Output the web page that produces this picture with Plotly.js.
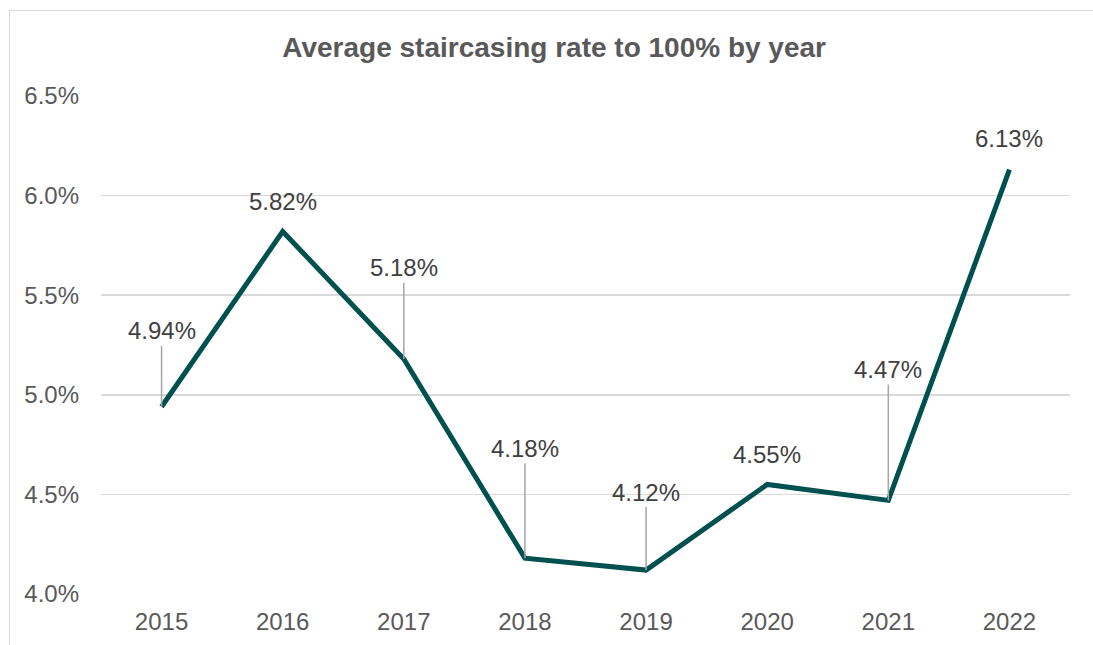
<!DOCTYPE html>
<html>
<head>
<meta charset="utf-8">
<script src="https://cdn.plot.ly/plotly-3.0.1.min.js"></script>
<style>
  html, body { margin: 0; padding: 0; background: #fff; }
  #wrap { position: relative; width: 1093px; height: 645px; overflow: hidden; }
  #frame { position: absolute; left: 9px; top: 10px; width: 1200px; height: 800px; border: 1.5px solid #d9d9d9; box-sizing: border-box; pointer-events: none; }
  #chart { position: absolute; left: 0; top: 0; width: 1093px; height: 645px; }
</style>
</head>
<body>
<div id="wrap">
  <div id="chart"></div>
  <div id="frame"></div>
</div>
<script>
const years = ['2015', '2016', '2017', '2018', '2019', '2020', '2021', '2022'];
const rates = [4.94, 5.82, 5.18, 4.18, 4.12, 4.55, 4.47, 6.13];
const yTickValues = [4.0, 4.5, 5.0, 5.5, 6.0, 6.5];
const yTickLabels = ['4.0%', '4.5%', '5.0%', '5.5%', '6.0%', '6.5%'];
const chartTitle = 'Average staircasing rate to 100% by year';

// label placement (pixels above point) and whether a leader line is drawn
const labelShift = [-76, -30, -91, -110, -78, -30, -131, -31];
const hasLeader = [true, false, true, true, true, false, true, false];

const FONT = 'Liberation Sans, Arial, sans-serif';

const annotations = years.map((yr, i) => ({
  x: i,
  y: rates[i],
  xref: 'x',
  yref: 'y',
  text: rates[i].toFixed(2) + '%',
  showarrow: true,
  arrowhead: 0,
  arrowwidth: 1.5,
  arrowcolor: hasLeader[i] ? '#a6a6a6' : 'rgba(0,0,0,0)',
  ax: 0,
  ay: labelShift[i],
  borderpad: 1,
  font: { family: FONT, size: 24, color: '#404040' }
}));

const trace = {
  type: 'scatter',
  mode: 'lines',
  x: years,
  y: rates,
  line: { color: '#00504f', width: 5, shape: 'linear' },
  hoverinfo: 'skip'
};

const layout = {
  width: 1093,
  height: 645,
  margin: { l: 101, r: 23, t: 96, b: 51 },
  paper_bgcolor: '#ffffff',
  plot_bgcolor: '#ffffff',
  showlegend: false,
  title: {
    text: '<b>' + chartTitle + '</b>',
    x: 0.507,
    xanchor: 'center',
    y: 0.927,
    yanchor: 'middle',
    font: { family: FONT, size: 28, color: '#595959' }
  },
  xaxis: {
    type: 'category',
    categoryorder: 'array',
    categoryarray: years,
    range: [-0.5, years.length - 0.5],
    showgrid: false,
    zeroline: false,
    showline: false,
    ticks: '',
    ticklabelstandoff: 11,
    tickfont: { family: FONT, size: 24, color: '#595959' },
    fixedrange: true
  },
  yaxis: {
    range: [4.0, 6.5],
    tickvals: yTickValues,
    ticktext: yTickLabels,
    showgrid: true,
    gridcolor: '#d9d9d9',
    gridwidth: 1.5,
    zeroline: false,
    showline: false,
    ticks: '',
    ticklabelstandoff: 21,
    tickfont: { family: FONT, size: 24, color: '#595959' },
    fixedrange: true
  },
  annotations: annotations
};

Plotly.newPlot('chart', [trace], layout, { displayModeBar: false, staticPlot: true });
</script>
</body>
</html>
